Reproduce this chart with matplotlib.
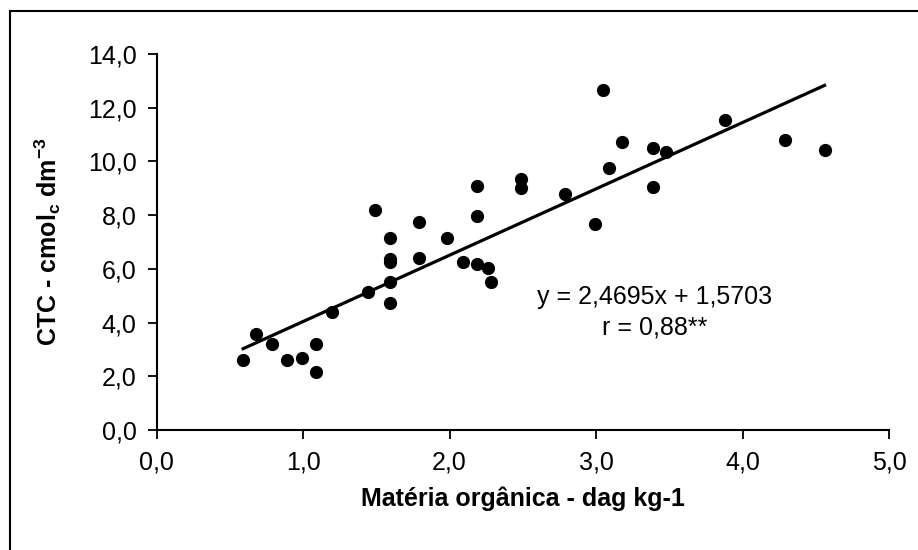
import numpy as np
import matplotlib
matplotlib.use("Agg")
import matplotlib.pyplot as plt
from matplotlib.patches import Rectangle

plt.rcParams['font.family'] = ['Liberation Sans', 'DejaVu Sans']
plt.rcParams['mathtext.fontset'] = 'custom'
plt.rcParams['mathtext.rm'] = 'Liberation Sans'
plt.rcParams['mathtext.bf'] = 'Liberation Sans:bold'

# Materia organica (dag/kg) vs CTC (cmolc/dm3)
mo = [0.59, 0.68, 0.79, 0.89, 0.99, 1.09, 1.09, 1.20, 1.44, 1.49,
      1.59, 1.59, 1.59, 1.59, 1.59, 1.79, 1.79, 1.98, 2.09, 2.19,
      2.19, 2.19, 2.26, 2.28, 2.49, 2.49, 2.79, 2.99, 3.05, 3.09,
      3.18, 3.39, 3.39, 3.48, 3.88, 4.29, 4.56]
ctc = [2.61, 3.57, 3.20, 2.61, 2.69, 3.20, 2.17, 4.40, 5.14, 8.19,
       7.16, 6.35, 6.24, 5.51, 4.72, 7.74, 6.41, 7.16, 6.27, 9.08,
       7.98, 6.18, 6.02, 5.50, 9.34, 9.00, 8.79, 7.67, 12.66, 9.75,
       10.73, 10.50, 9.04, 10.36, 11.54, 10.80, 10.42]

slope = 2.4695
intercept = 1.5703
x_ticks = [0, 1, 2, 3, 4, 5]
y_ticks = [0, 2, 4, 6, 8, 10, 12, 14]

fig = plt.figure(figsize=(9.18, 5.5), dpi=100)
ax = fig.add_axes([0.1707, 0.2182, 0.7977, 0.6836])

ax.plot(mo, ctc, 'o', color='black', markersize=8.5, zorder=3)

xl = np.array([min(mo), max(mo)])
ax.plot(xl, slope * xl + intercept, color='black', linewidth=2.3)

ax.set_xlim(0, 5)
ax.set_ylim(0, 14)
ax.set_xticks(x_ticks)
ax.set_yticks(y_ticks)
ax.set_xticklabels([f"{v:.1f}".replace('.', ',') for v in x_ticks])
ax.set_yticklabels([f"{v:.1f}".replace('.', ',') for v in y_ticks])
ax.tick_params(direction='out', length=6.5, width=1.3, labelsize=18, pad=8)
for s in ['top', 'right']:
    ax.spines[s].set_visible(False)
for s in ['left', 'bottom']:
    ax.spines[s].set_linewidth(1.5)

ax.set_xlabel("Matéria orgânica - dag kg-1", fontsize=18, fontweight='bold', labelpad=9)
ax.set_ylabel(r"CTC - cmol$_\mathbf{c}$ dm$^\mathbf{-3}$", fontsize=18, fontweight='bold', labelpad=18)

ax.text(3.4, 4.95, "y = 2,4695x + 1,5703", fontsize=18, ha='center', va='center')
ax.text(3.4, 3.8, "r = 0,88**", fontsize=18, ha='center', va='center')

# outer frame (only top/left visible in the original crop)
fig.patches.append(Rectangle((10 / 918, -0.1), 1.2, 1.1 - 11 / 550,
                             transform=fig.transFigure, fill=False,
                             edgecolor='black', linewidth=1.5))

fig.savefig("out.png", dpi=100)
